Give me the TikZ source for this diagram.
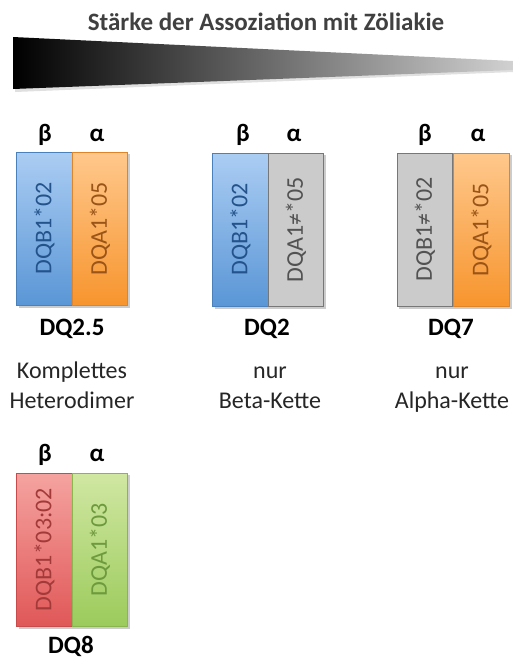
\documentclass[tikz,border=0pt]{standalone}
\usepackage{fontspec}
\setmainfont{Carlito}
\begin{document}
\begin{tikzpicture}[x=1pt,y=-1pt,
  strip/.style={draw=#1, line width=0.6pt, minimum width=55.5pt, minimum height=153pt, inner sep=0pt},
  gene/.style={rotate=90, font=\fontsize{24}{24}\selectfont, inner sep=0pt},
  chain/.style={font=\bfseries\fontsize{25}{25}\selectfont, inner sep=0pt},
  dqname/.style={font=\bfseries\fontsize{25}{25}\selectfont, inner sep=0pt},
  desc/.style={font=\fontsize{24}{30}\selectfont, align=center, inner sep=0pt, text=black!85},
  shadowbox/.style={fill=black!20, draw=none}]
\definecolor{bluetop}{HTML}{ABCDF3}
\definecolor{bluebot}{HTML}{5A96D6}
\definecolor{blueline}{HTML}{4A80BC}
\definecolor{bluetxt}{HTML}{24528A}
\definecolor{orgtop}{HTML}{FFC88C}
\definecolor{orgbot}{HTML}{F7952E}
\definecolor{orgline}{HTML}{E0842A}
\definecolor{orgtxt}{HTML}{9A5417}
\definecolor{grayfill}{HTML}{CBCBCB}
\definecolor{grayline}{HTML}{777777}
\definecolor{graytxt}{HTML}{525252}
\definecolor{redtop}{HTML}{F5A3A0}
\definecolor{redbot}{HTML}{E05858}
\definecolor{redline}{HTML}{C84A4A}
\definecolor{redtxt}{HTML}{A33A3A}
\definecolor{grntop}{HTML}{D0E7A2}
\definecolor{grnbot}{HTML}{9CCB5C}
\definecolor{grnline}{HTML}{8AB650}
\definecolor{grntxt}{HTML}{6E9A3E}
\definecolor{titletxt}{HTML}{404040}
\useasboundingbox (0,0) rectangle (513,659);
\fill[white] (0,0) rectangle (513,659);

% title
\node[font=\bfseries\fontsize{25}{25}\selectfont, text=titletxt, inner sep=0pt] (title) at (266,22) {Stärke der Assoziation mit Zöliakie};
% wedge
\fill[black!12] (15,40) -- (513,63) -- (513,72) -- (15,92) -- cycle;
\shade[left color=black, right color=black!18] (13,37) -- (513,61) -- (513,70) -- (13,89) -- cycle;

% DQ2.5
\fill[shadowbox] (19,154) rectangle (130,308);
\node[strip=blueline, top color=bluetop, bottom color=bluebot] (b1) at (44.5,228.5) {};
\node[strip=orgline, top color=orgtop, bottom color=orgbot] (a1) at (100,228.5) {};
\node[gene, text=bluetxt] (gb1) at (b1.center) {DQB1*02};
\node[gene, text=orgtxt] (ga1) at (a1.center) {DQA1*05};
\node[chain] (beta1) at (45,135) {β};
\node[chain] (alpha1) at (97,135) {α};
\node[dqname] (dq1) at (72,329) {DQ2.5};
\node[desc] (d1) at (72,387) {\strut Komplettes\\Heterodimer\strut};

% DQ2
\fill[shadowbox] (215,155) rectangle (326,309);
\node[strip=blueline, top color=bluetop, bottom color=bluebot] (b2) at (240.5,229.5) {};
\node[strip=grayline, fill=grayfill] (a2) at (296,229.5) {};
\node[gene, text=bluetxt] (gb2) at (b2.center) {DQB1*02};
\node[gene, text=graytxt] (ga2) at (a2.center) {DQA1≠*05};
\node[chain] (beta2) at (243,135) {β};
\node[chain] (alpha2) at (294,135) {α};
\node[dqname] (dq2) at (267,329) {DQ2};
\node[desc] (d2) at (270,387) {\strut nur\\Beta-Kette\strut};

% DQ7
\fill[shadowbox] (399,155) rectangle (512,309);
\node[strip=grayline, fill=grayfill] (b3) at (425,229.5) {};
\node[strip=orgline, top color=orgtop, bottom color=orgbot] (a3) at (481.5,229.5) {};
\node[gene, text=graytxt] (gb3) at (b3.center) {DQB1≠*02};
\node[gene, text=orgtxt] (ga3) at (a3.center) {DQA1*05};
\node[chain] (beta3) at (425,135) {β};
\node[chain] (alpha3) at (478,135) {α};
\node[dqname] (dq3) at (451,329) {DQ7};
\node[desc] (d3) at (452,387) {\strut nur\\Alpha-Kette\strut};

% DQ8
\fill[shadowbox] (19,475) rectangle (130,629);
\node[strip=redline, top color=redtop, bottom color=redbot] (b4) at (44.5,549.5) {};
\node[strip=grnline, top color=grntop, bottom color=grnbot] (a4) at (100,549.5) {};
\node[gene, text=redtxt] (gb4) at (b4.center) {DQB1*03:02};
\node[gene, text=grntxt] (ga4) at (a4.center) {DQA1*03};
\node[chain] (beta4) at (45,455) {β};
\node[chain] (alpha4) at (97,455) {α};
\node[dqname] (dq4) at (71,646.5) {DQ8};
\end{tikzpicture}
\end{document}
